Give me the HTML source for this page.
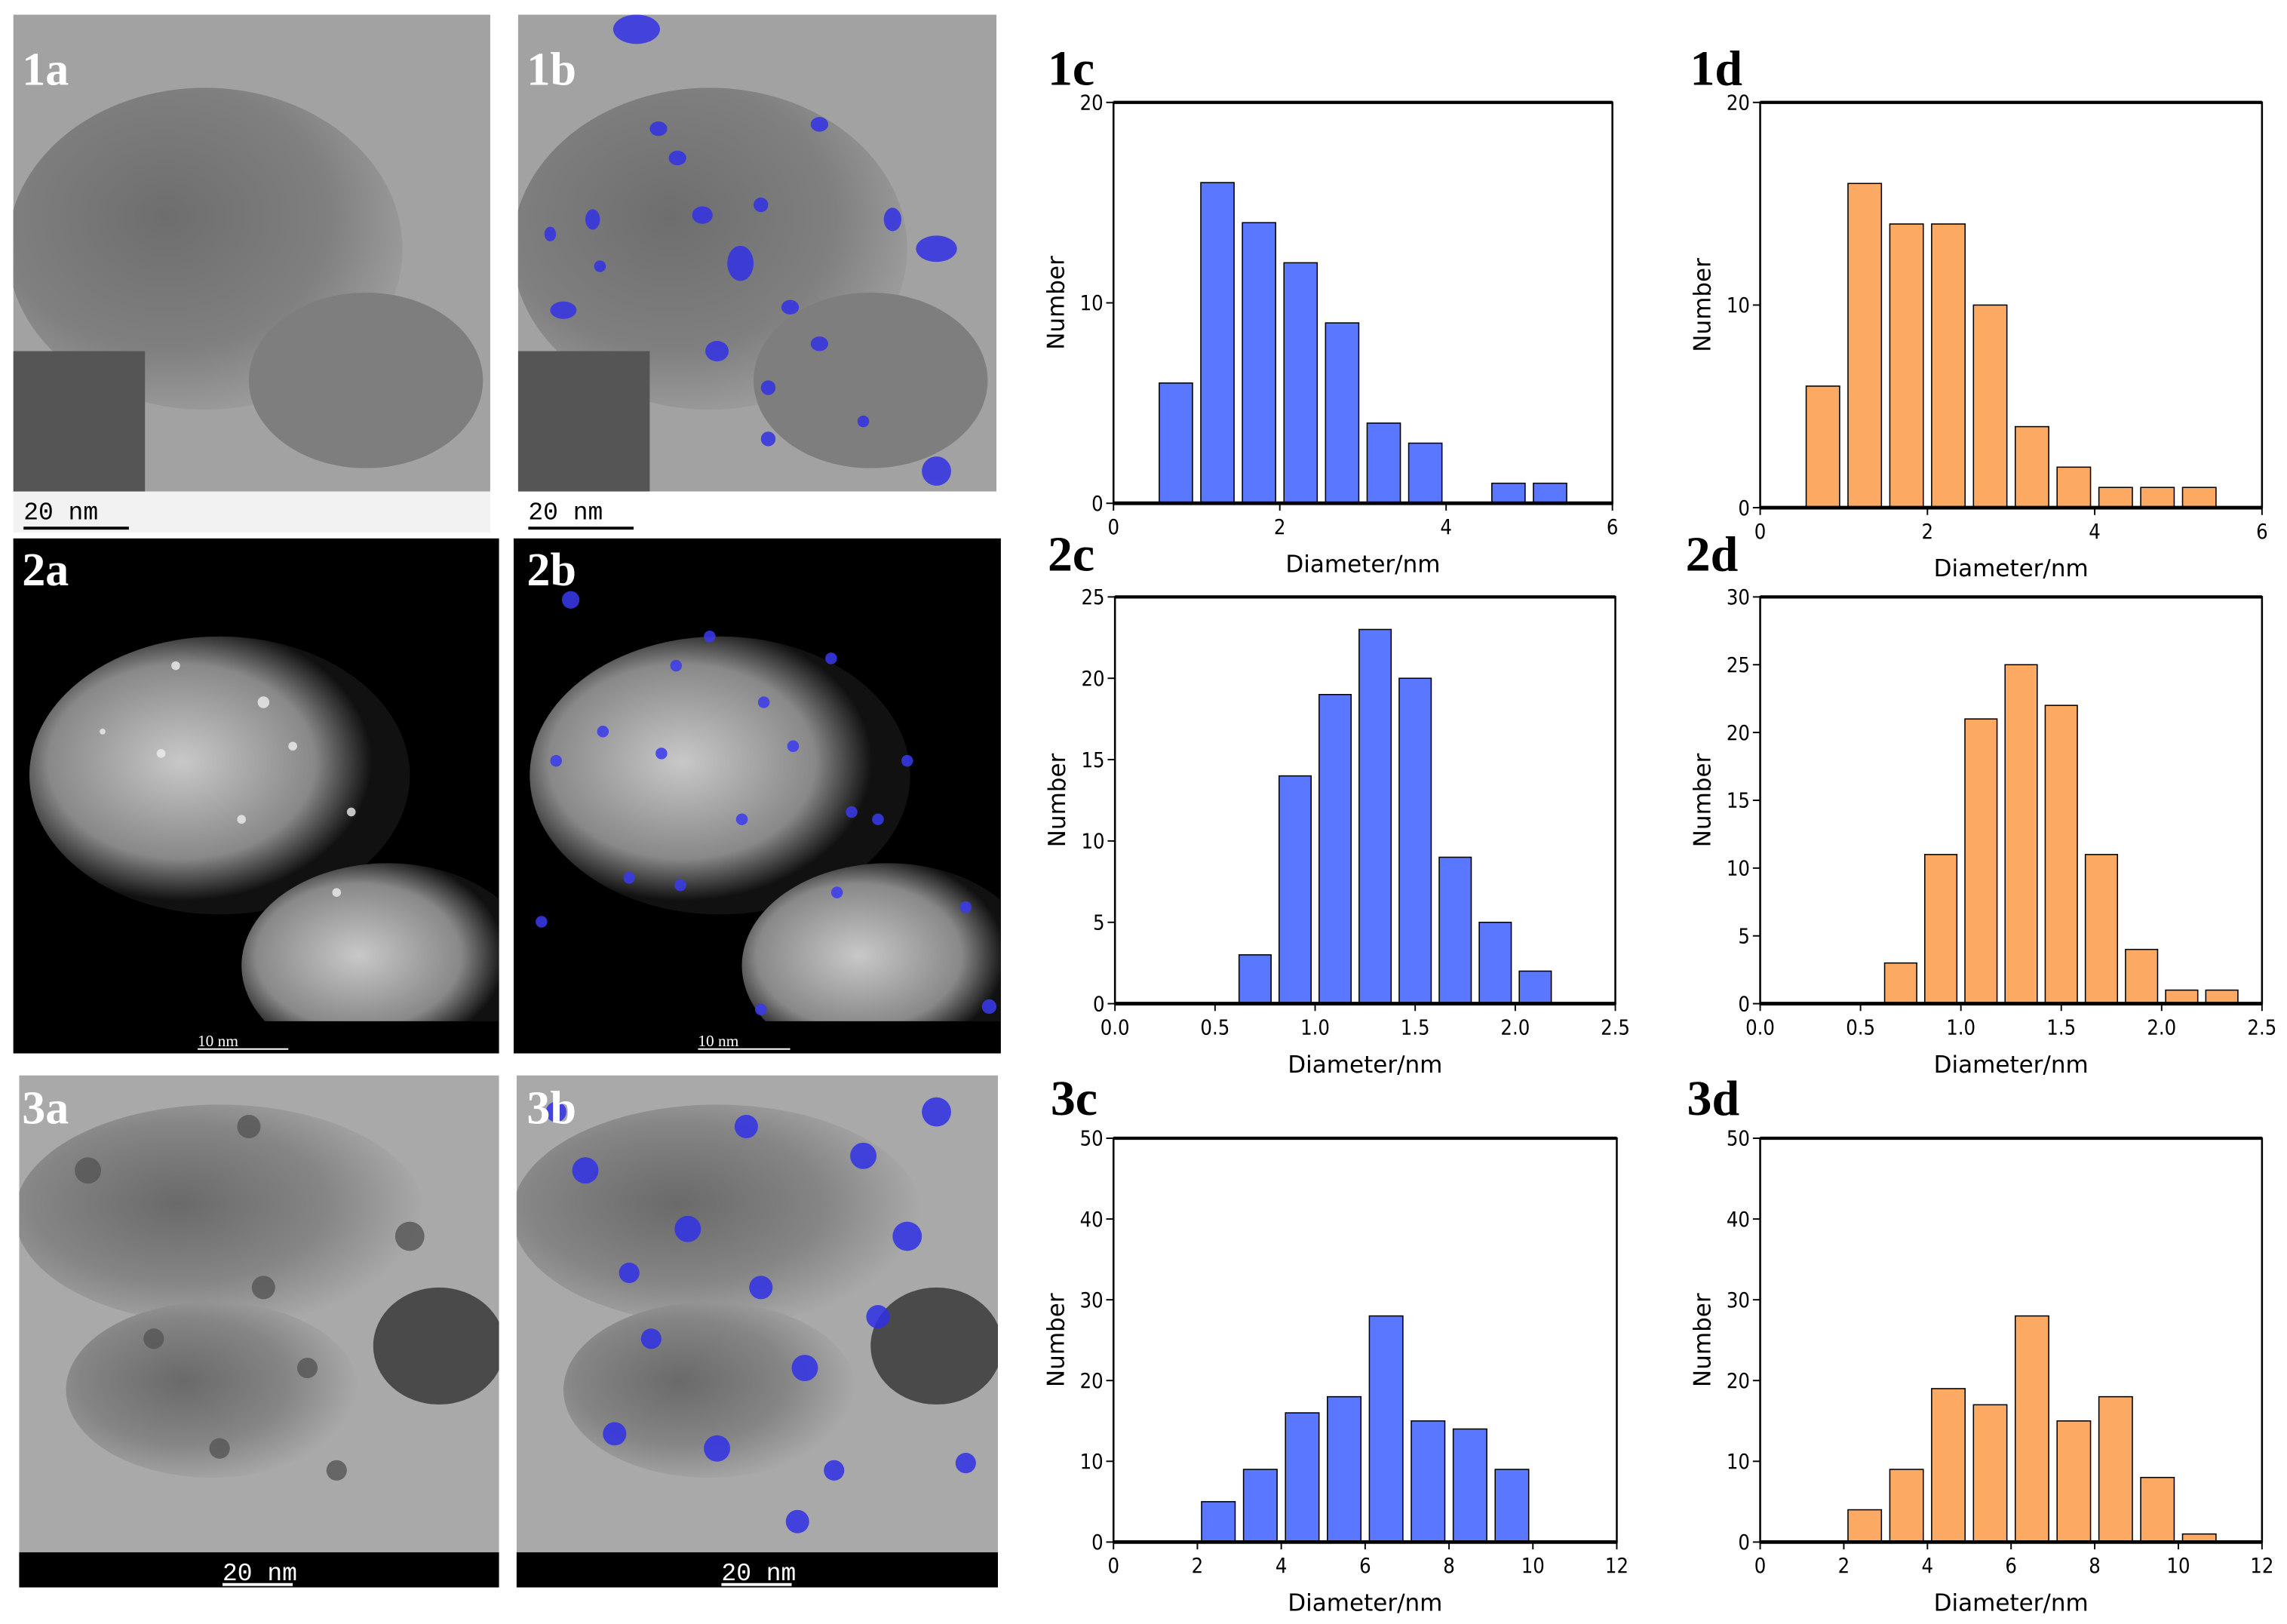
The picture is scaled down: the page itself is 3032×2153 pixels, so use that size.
<!DOCTYPE html>
<html><head><meta charset="utf-8"><style>
html,body{margin:0;padding:0;background:#fff}
svg{display:block}
.pl{font-family:"Liberation Serif",serif;font-weight:bold;font-size:32px;fill:#fff}
.cl{font-family:"Liberation Serif",serif;font-weight:bold;font-size:34px;fill:#000}
.tk{font-family:"DejaVu Sans Condensed","Liberation Sans",sans-serif;font-size:14px;fill:#000}
.ax{font-family:"DejaVu Sans","Liberation Sans",sans-serif;font-size:16px;fill:#000}
.sb{font-family:"Liberation Mono",monospace;font-size:17px}
</style></head><body>
<svg id="fig" width="3032" height="2153" viewBox="0 0 1563 1110">
<defs>
<radialGradient id="g1" cx="0.4" cy="0.4" r="0.7"><stop offset="0" stop-color="#6e6e6e"/><stop offset="0.6" stop-color="#808080"/><stop offset="1" stop-color="#a5a5a5"/></radialGradient>
<radialGradient id="g2" cx="0.4" cy="0.45" r="0.5"><stop offset="0" stop-color="#c8c8c8"/><stop offset="0.7" stop-color="#888"/><stop offset="1" stop-color="#111"/></radialGradient>
<radialGradient id="g3" cx="0.4" cy="0.45" r="0.6"><stop offset="0" stop-color="#6a6a6a"/><stop offset="0.6" stop-color="#858585"/><stop offset="1" stop-color="#a9a9a9"/></radialGradient>
<clipPath id="c1a"><rect x="9" y="10" width="326" height="326"/></clipPath>
<clipPath id="c1b"><rect x="354" y="10" width="327" height="326"/></clipPath>
<clipPath id="c2a"><rect x="9" y="368" width="332" height="330"/></clipPath>
<clipPath id="c2b"><rect x="351" y="368" width="333" height="330"/></clipPath>
<clipPath id="c3a"><rect x="13" y="735" width="328" height="326"/></clipPath>
<clipPath id="c3b"><rect x="353" y="735" width="329" height="326"/></clipPath>
</defs>
<!-- Row 1 images -->
<g>
<g clip-path="url(#c1a)">
<rect x="9" y="10" width="326" height="326" fill="#a2a2a2"/>
<ellipse cx="140" cy="170" rx="135" ry="110" fill="url(#g1)"/>
<ellipse cx="250" cy="260" rx="80" ry="60" fill="#7e7e7e"/>
<rect x="9" y="240" width="90" height="96" fill="#555"/>
</g>
<rect x="9" y="336" width="326" height="28" fill="#f2f2f2"/>
<text class="sb" x="16" y="355" fill="#000">20 nm</text><line x1="16" y1="361" x2="88" y2="361" stroke="#000" stroke-width="2"/>
<text class="pl" x="15" y="58">1a</text></g>
<g>
<g clip-path="url(#c1b)">
<rect x="354" y="10" width="327" height="326" fill="#a2a2a2"/>
<ellipse cx="485" cy="170" rx="135" ry="110" fill="url(#g1)"/>
<ellipse cx="595" cy="260" rx="80" ry="60" fill="#7e7e7e"/>
<rect x="354" y="240" width="90" height="96" fill="#555"/>
<g fill="#3232e6" opacity="0.85">
<ellipse cx="435" cy="20" rx="16" ry="10"/><ellipse cx="463" cy="108" rx="6" ry="5"/><ellipse cx="506" cy="180" rx="9" ry="12"/><ellipse cx="480" cy="147" rx="7" ry="6"/><ellipse cx="385" cy="212" rx="9" ry="6"/><ellipse cx="490" cy="240" rx="8" ry="7"/><ellipse cx="540" cy="210" rx="6" ry="5"/><ellipse cx="560" cy="235" rx="6" ry="5"/><ellipse cx="405" cy="150" rx="5" ry="7"/><ellipse cx="640" cy="170" rx="14" ry="9"/><ellipse cx="610" cy="150" rx="6" ry="8"/><ellipse cx="520" cy="140" rx="5" ry="5"/><ellipse cx="376" cy="160" rx="4" ry="5"/><ellipse cx="590" cy="288" rx="4" ry="4"/><ellipse cx="525" cy="300" rx="5" ry="5"/><ellipse cx="450" cy="88" rx="6" ry="5"/><ellipse cx="560" cy="85" rx="6" ry="5"/><ellipse cx="640" cy="322" rx="10" ry="10"/><ellipse cx="525" cy="265" rx="5" ry="5"/><ellipse cx="410" cy="182" rx="4" ry="4"/></g>
</g>
<rect x="354" y="336" width="327" height="28" fill="#fff"/>
<text class="sb" x="361" y="355" fill="#000">20 nm</text><line x1="361" y1="361" x2="433" y2="361" stroke="#000" stroke-width="2"/>
<text class="pl" x="360" y="58">1b</text></g>
<!-- Row 2 images -->
<g>
<rect x="9" y="368" width="332" height="352" fill="#000"/>
<g clip-path="url(#c2a)">
<ellipse cx="150" cy="530" rx="130" ry="95" fill="url(#g2)"/>
<ellipse cx="265" cy="660" rx="100" ry="70" fill="url(#g2)"/>
<g fill="#eee" opacity="0.8"><circle cx="120" cy="455" r="3"/><circle cx="180" cy="480" r="4"/><circle cx="110" cy="515" r="3"/><circle cx="200" cy="510" r="3"/><circle cx="165" cy="560" r="3"/><circle cx="240" cy="555" r="3"/><circle cx="70" cy="500" r="2"/><circle cx="230" cy="610" r="3"/></g>
</g>
<text x="135" y="715" fill="#fff" font-family="Liberation Serif" font-size="11">10 nm</text><line x1="135" y1="717" x2="197" y2="717" stroke="#fff"/>
<text class="pl" x="15" y="400">2a</text></g>
<g>
<rect x="351" y="368" width="333" height="352" fill="#000"/>
<g clip-path="url(#c2b)">
<ellipse cx="492" cy="530" rx="130" ry="95" fill="url(#g2)"/>
<ellipse cx="607" cy="660" rx="100" ry="70" fill="url(#g2)"/>
<g fill="#3a3aee" opacity="0.85"><circle cx="462" cy="455" r="4"/><circle cx="522" cy="480" r="4"/><circle cx="452" cy="515" r="4"/><circle cx="542" cy="510" r="4"/><circle cx="507" cy="560" r="4"/><circle cx="582" cy="555" r="4"/><circle cx="412" cy="500" r="4"/><circle cx="572" cy="610" r="4"/><circle cx="390" cy="410" r="6"/><circle cx="485" cy="435" r="4"/><circle cx="568" cy="450" r="4"/><circle cx="600" cy="560" r="4"/><circle cx="430" cy="600" r="4"/><circle cx="660" cy="620" r="4"/><circle cx="370" cy="630" r="4"/><circle cx="520" cy="690" r="4"/><circle cx="676" cy="688" r="5"/><circle cx="380" cy="520" r="4"/><circle cx="465" cy="605" r="4"/><circle cx="620" cy="520" r="4"/></g>
</g>
<text x="477" y="715" fill="#fff" font-family="Liberation Serif" font-size="11">10 nm</text><line x1="477" y1="717" x2="540" y2="717" stroke="#fff"/>
<text class="pl" x="360" y="400">2b</text></g>
<!-- Row 3 images -->
<g>
<g clip-path="url(#c3a)">
<rect x="13" y="735" width="328" height="350" fill="#a9a9a9"/>
<ellipse cx="150" cy="830" rx="140" ry="75" fill="url(#g3)"/>
<ellipse cx="145" cy="950" rx="100" ry="60" fill="url(#g3)"/>
<ellipse cx="300" cy="920" rx="45" ry="40" fill="#4a4a4a"/>
<g fill="#555" opacity="0.8"><circle cx="60" cy="800" r="9"/><circle cx="280" cy="845" r="10"/><circle cx="180" cy="880" r="8"/><circle cx="105" cy="915" r="7"/><circle cx="210" cy="935" r="7"/><circle cx="150" cy="990" r="7"/><circle cx="230" cy="1005" r="7"/><circle cx="170" cy="770" r="8"/></g>
</g>
<rect x="13" y="1061" width="328" height="24" fill="#000"/>
<text class="sb" x="152" y="1080" fill="#fff">20 nm</text><line x1="152" y1="1083" x2="200" y2="1083" stroke="#fff" stroke-width="2"/>
<text class="pl" x="15" y="768">3a</text></g>
<g>
<g clip-path="url(#c3b)">
<rect x="353" y="735" width="329" height="350" fill="#a9a9a9"/>
<ellipse cx="490" cy="830" rx="140" ry="75" fill="url(#g3)"/>
<ellipse cx="485" cy="950" rx="100" ry="60" fill="url(#g3)"/>
<ellipse cx="640" cy="920" rx="45" ry="40" fill="#4a4a4a"/>
<g fill="#3030e6" opacity="0.85"><circle cx="400" cy="800" r="9"/><circle cx="620" cy="845" r="10"/><circle cx="520" cy="880" r="8"/><circle cx="445" cy="915" r="7"/><circle cx="550" cy="935" r="9"/><circle cx="490" cy="990" r="9"/><circle cx="570" cy="1005" r="7"/><circle cx="510" cy="770" r="8"/><circle cx="470" cy="840" r="9"/><circle cx="590" cy="790" r="9"/><circle cx="640" cy="760" r="10"/><circle cx="420" cy="980" r="8"/><circle cx="545" cy="1040" r="8"/><circle cx="660" cy="1000" r="7"/><circle cx="380" cy="760" r="7"/><circle cx="430" cy="870" r="7"/><circle cx="600" cy="900" r="8"/></g>
</g>
<rect x="353" y="1061" width="329" height="24" fill="#000"/>
<text class="sb" x="493" y="1080" fill="#fff">20 nm</text><line x1="493" y1="1083" x2="541" y2="1083" stroke="#fff" stroke-width="2"/>
<text class="pl" x="360" y="768">3b</text></g>
<g id="charts"></g>
</svg>
<script>
const centers1 = [0.75,1.25,1.75,2.25,2.75,3.25,3.75,4.25,4.75,5.25];
const counts1c = [6,16,14,12,9,4,3,0,1,1];
const counts1d = [6,16,14,14,10,4,2,1,1,1];
const centers2 = [0.7,0.9,1.1,1.3,1.5,1.7,1.9,2.1,2.3];
const counts2c = [3,14,19,23,20,9,5,2,0];
const counts2d = [3,11,21,25,22,11,4,1,1];
const centers3 = [2.5,3.5,4.5,5.5,6.5,7.5,8.5,9.5,10.5];
const counts3c = [5,9,16,18,28,15,14,9,0];
const counts3d = [4,9,19,17,28,15,18,8,1];
const xticks1 = [0,2,4,6];
const xticks2 = ["0.0","0.5","1.0","1.5","2.0","2.5"];
const xticks3 = [0,2,4,6,8,10,12];
const yticks1 = [0,10,20];
const yticks2 = [0,5,10,15,20,25];
const yticks2d = [0,5,10,15,20,25,30];
const yticks3 = [0,10,20,30,40,50];

const NS = "http://www.w3.org/2000/svg";
const root = document.getElementById('charts');
function mk(tag, attrs, parent){const e=document.createElementNS(NS,tag);for(const k in attrs)e.setAttribute(k,attrs[k]);parent.appendChild(e);return e;}

function chart(id,box,xmax,ymax,xt,yt,centers,counts,bw,color,label,lx,ly){
  const g=mk('g',{},root);
  
  
  const [x0,y0,x1,y1]=box;
  const sx=v=>x0+(v/xmax)*(x1-x0);
  const sy=v=>y1-(v/ymax)*(y1-y0);
  centers.forEach((c,i)=>{
    if(!counts[i])return;
    const r=mk('rect',{x:sx(c-bw/2),y:sy(counts[i]),width:sx(c+bw/2)-sx(c-bw/2),height:y1-sy(counts[i]),fill:color,stroke:'#000','stroke-width':0.8},g);
    
    
  });
  const b=mk('rect',{x:x0,y:y0,width:x1-x0,height:y1-y0,fill:'none',stroke:'#000','stroke-width':1.3},g);
  
  
  mk('line',{x1:x0,y1:y1,x2:x1,y2:y1,stroke:'#000','stroke-width':2.5},g);
  mk('line',{x1:x0,y1:y0,x2:x1,y2:y0,stroke:'#000','stroke-width':2.2},g);
  xt.forEach(t=>{const v=parseFloat(t);const x=sx(v);
    mk('line',{x1:x,y1:y1,x2:x,y2:y1+5,stroke:'#000','stroke-width':1},g);
    const tx=mk('text',{x:x,y:y1+21,'text-anchor':'middle',class:'tk'},g);tx.textContent=t;
    
    
  });
  yt.forEach(t=>{const y=sy(t);
    mk('line',{x1:x0-5,y1:y,x2:x0,y2:y,stroke:'#000','stroke-width':1},g);
    const tx=mk('text',{x:x0-7,y:y+5,'text-anchor':'end',class:'tk'},g);tx.textContent=t;
    
    
  });
  const xl=mk('text',{x:(x0+x1)/2,y:y1+47,'text-anchor':'middle',class:'ax'},g);xl.textContent='Diameter/nm';
  
  
  const yc=(y0+y1)/2;
  const yl=mk('text',{x:x0-34,y:yc,'text-anchor':'middle',class:'ax',transform:'rotate(-90 '+(x0-34)+' '+yc+')'},g);yl.textContent='Number';
  
  
  const pl=mk('text',{x:lx,y:ly,class:'cl'},g);pl.textContent=label;
  
  
}
const blue='#5a78ff', orange='#fba963';
chart('1c',[761,70,1102,344],6,20,xticks1,yticks1,centers1,counts1c,0.4,blue,'1c',716,58);
chart('1d',[1203,70,1546,347],6,20,xticks1,yticks1,centers1,counts1d,0.4,orange,'1d',1155,58);
chart('2c',[762,408,1104,686],2.5,25,xticks2,yticks2,centers2,counts2c,0.16,blue,'2c',716,390);
chart('2d',[1203,408,1546,686],2.5,30,xticks2,yticks2d,centers2,counts2d,0.16,orange,'2d',1152,390);
chart('3c',[761,778,1105,1054],12,50,xticks3,yticks3,centers3,counts3c,0.8,blue,'3c',718,762);
chart('3d',[1203,778,1546,1054],12,50,xticks3,yticks3,centers3,counts3d,0.8,orange,'3d',1153,762);
</script>
</body></html>
